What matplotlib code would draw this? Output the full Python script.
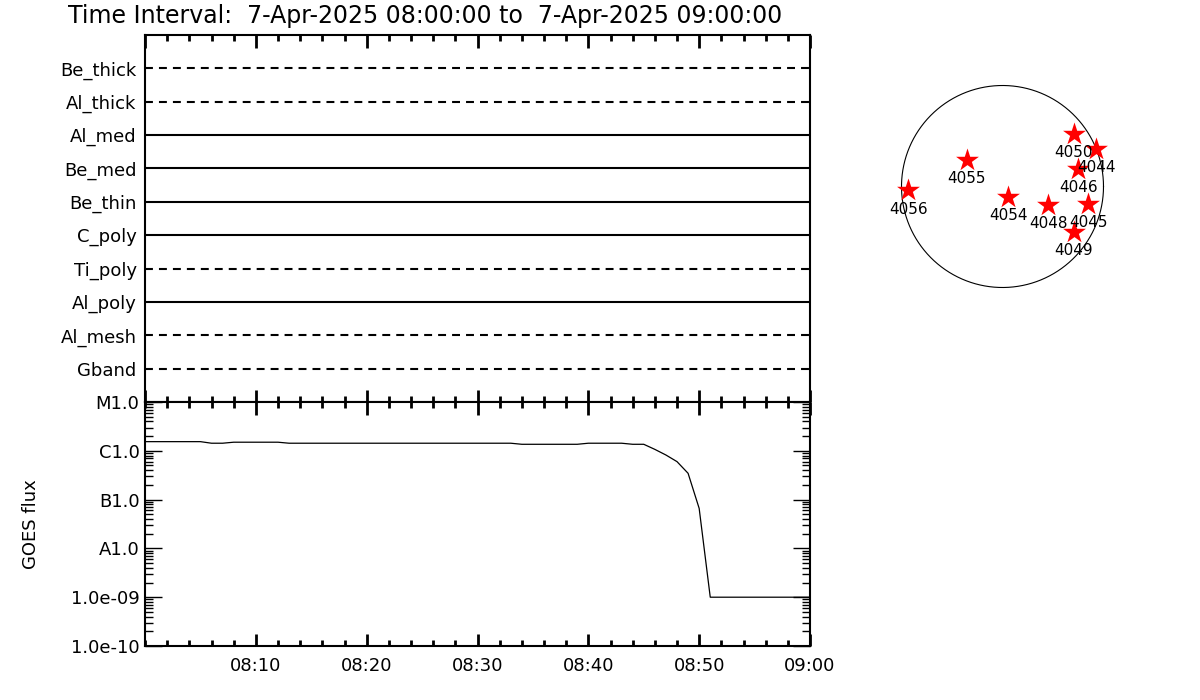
import matplotlib
matplotlib.use("Agg")
import matplotlib.pyplot as plt
import matplotlib.dates as mdates
import matplotlib.ticker as mticker
import numpy as np
from datetime import datetime, timedelta

# filters in the top panel, bottom to top
filters = ["Gband", "Al_mesh", "Al_poly", "Ti_poly", "C_poly",
           "Be_thin", "Be_med", "Al_med", "Al_thick", "Be_thick"]
filter_has_data = [False, False, True, False, True,
                   True, True, True, False, False]

# GOES flux, one value per minute from 08:00 to 09:00
goes_minutes = list(range(0, 61))
goes_flux = ([1.54e-6] * 6 + [1.43e-6] * 2 + [1.50e-6] * 5 + [1.43e-6] * 21
             + [1.36e-6] * 6 + [1.43e-6] * 4 + [1.36e-6] * 2
             + [1.07e-6, 8.2e-7, 6.0e-7, 3.46e-7, 6.6e-8, 1.0e-9]
             + [1.0e-9] * 9)

goes_ticks = [1e-10, 1e-9, 1e-8, 1e-7, 1e-6, 1e-5]
goes_tick_labels = ["1.0e-10", "1.0e-09", "A1.0", "B1.0", "C1.0", "M1.0"]

# active regions, arcsec from disc centre
ar_numbers = ["4050", "4044", "4046", "4055", "4056", "4054", "4048", "4045", "4049"]
ar_x = [678, 891, 720, -342, -896, 55, 435, 815, 678]
ar_y = [501, 358, 168, 253, -38, -102, -180, -165, -434]
sun_radius = 960

t0 = datetime(2025, 4, 7, 8, 0, 0)
t1 = datetime(2025, 4, 7, 9, 0, 0)
times = [t0 + timedelta(minutes=m) for m in goes_minutes]

plt.rcParams['font.family'] = ['DejaVu Sans']
fs = 13

fig = plt.figure(figsize=(12, 7), dpi=100)
fig.text(68 / 1200, 1 - 16 / 700,
         "Time Interval:  7-Apr-2025 08:00:00 to  7-Apr-2025 09:00:00",
         fontsize=17, va="center", ha="left")

ax1 = fig.add_axes([145 / 1200, 1 - 402 / 700, 665 / 1200, 367 / 700])
ax2 = fig.add_axes([145 / 1200, 1 - 646 / 700, 665 / 1200, 244 / 700])

for a in (ax1, ax2):
    for s in a.spines.values():
        s.set_linewidth(1.5)
    a.set_xlim(t0, t1)
    a.xaxis.set_major_locator(mdates.MinuteLocator(byminute=range(0, 60, 10)))
    a.xaxis.set_minor_locator(mdates.MinuteLocator(byminute=range(0, 60, 2)))

# top panel
for i, (name, ok) in enumerate(zip(filters, filter_has_data)):
    ls = "-" if ok else (0, (3.8, 2.9))
    ax1.plot([t0, t1], [i + 1, i + 1], color="black", lw=1.5, linestyle=ls)
ax1.set_ylim(0, len(filters) + 1)
ax1.set_yticks(range(1, len(filters) + 1))
ax1.set_yticklabels(filters, fontsize=fs)
ax1.tick_params(axis="y", length=0, pad=6)
ax1.tick_params(axis="x", which="major", direction="in", length=9, width=2,
                top=True, bottom=True, labelbottom=False)
ax1.tick_params(axis="x", which="minor", direction="in", length=4, width=2,
                top=True, bottom=True)

# GOES panel
ax2.plot(times, goes_flux, color="black", lw=0.9)
ax2.set_yscale("log")
ax2.set_ylim(1e-10, 1e-5)
ax2.set_yticks(goes_ticks)
ax2.set_yticklabels(goes_tick_labels, fontsize=fs)
ax2.yaxis.set_minor_locator(mticker.LogLocator(base=10, subs=np.arange(2, 10)))
ax2.yaxis.set_minor_formatter(mticker.NullFormatter())
ax2.tick_params(axis="y", which="major", direction="in", length=12, width=1,
                left=True, right=True, pad=4)
ax2.tick_params(axis="y", which="minor", direction="in", length=6, width=1,
                left=True, right=True)
ax2.tick_params(axis="x", which="major", direction="in", length=9, width=2,
                top=True, bottom=True, labelsize=fs, pad=8)
ax2.tick_params(axis="x", which="minor", direction="in", length=4, width=2,
                top=True, bottom=True)
ax2.xaxis.set_major_formatter(mdates.DateFormatter("%H:%M"))
ax2.set_xticks([t0 + timedelta(minutes=m) for m in range(10, 61, 10)])
ax2.set_ylabel("GOES flux", fontsize=fs, labelpad=22)

# disc panel
ax3 = fig.add_axes([890 / 1200, 1 - 299 / 700, 225 / 1200, 225 / 700])
lim = 112.5 / 101 * sun_radius
ax3.set_xlim(-lim, lim)
ax3.set_ylim(-lim, lim)
ax3.set_aspect("equal")
ax3.axis("off")
th = np.linspace(0, 2 * np.pi, 400)
ax3.plot(sun_radius * np.cos(th), sun_radius * np.sin(th), color="black", lw=0.8)
ax3.scatter(ar_x, ar_y, marker="*", s=300, color="red", zorder=3, linewidths=0)
for n, x, y in zip(ar_numbers, ar_x, ar_y):
    ax3.text(x, y - 105, n, ha="center", va="top", fontsize=11)

fig.savefig("out.png", dpi=100)
